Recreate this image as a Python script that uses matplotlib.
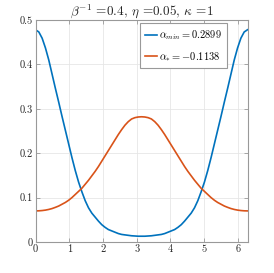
import numpy as np
import matplotlib
matplotlib.use("Agg")
import matplotlib.pyplot as plt

plt.rcParams['font.family'] = 'serif'
plt.rcParams['font.serif'] = ['cmr10', 'DejaVu Serif']
plt.rcParams['mathtext.fontset'] = 'cm'
plt.rcParams['axes.formatter.use_mathtext'] = True
plt.rcParams['axes.unicode_minus'] = False

# x positions (k*pi/32, k = 0..64)
x_vals = [k * np.pi / 32 for k in range(65)]

alpha_min_curve = [
    0.478, 0.473, 0.459, 0.437, 0.410, 0.378, 0.346, 0.315, 0.283, 0.252,
    0.221, 0.190, 0.161, 0.135, 0.113, 0.093, 0.077, 0.065, 0.056, 0.047,
    0.039, 0.033, 0.028, 0.025, 0.022, 0.019, 0.017, 0.016, 0.015, 0.014,
    0.0135, 0.013, 0.013,
    0.013, 0.0135, 0.014, 0.015, 0.016, 0.017, 0.019, 0.022, 0.025, 0.028,
    0.033, 0.039, 0.047, 0.056, 0.065, 0.077, 0.093, 0.113, 0.135, 0.161,
    0.190, 0.221, 0.252, 0.283, 0.315, 0.346, 0.378, 0.410, 0.437, 0.459,
    0.473, 0.478]
alpha_star_curve = [
    0.070, 0.0702, 0.0708, 0.0718, 0.0733, 0.0753, 0.078, 0.081, 0.085, 0.089,
    0.094, 0.100, 0.107, 0.114, 0.121, 0.130, 0.139, 0.149, 0.159, 0.170,
    0.182, 0.194, 0.206, 0.218, 0.230, 0.242, 0.253, 0.263, 0.271, 0.277,
    0.280, 0.2815, 0.282,
    0.2815, 0.280, 0.277, 0.271, 0.263, 0.253, 0.242, 0.230, 0.218, 0.206,
    0.194, 0.182, 0.170, 0.159, 0.149, 0.139, 0.130, 0.121, 0.114, 0.107,
    0.100, 0.094, 0.089, 0.085, 0.081, 0.078, 0.0753, 0.0733, 0.0718, 0.0708,
    0.0702, 0.070]

labels = [r'$\alpha_{min} = 0.2899$', r'$\alpha_{*} = -0.1138$']
title = r'$\beta^{-1}$ =0.4, $\eta$ =0.05, $\kappa$ =1'
xticks = [0, 1, 2, 3, 4, 5, 6]
yticks = [0, 0.1, 0.2, 0.3, 0.4, 0.5]
ytick_labels = ['0', '0.1', '0.2', '0.3', '0.4', '0.5']

fig = plt.figure(figsize=(2.74, 2.73), dpi=100)
ax = fig.add_axes([0.1296, 0.1136, 0.7737, 0.8132])
ax.plot(x_vals, alpha_min_curve, color='#0072BD', lw=1.2, label=labels[0])
ax.plot(x_vals, alpha_star_curve, color='#D95319', lw=1.2, label=labels[1])
ax.set_xlim(0, 2 * np.pi)
ax.set_ylim(0, 0.5)
ax.set_xticks(xticks)
ax.set_xticklabels([str(t) for t in xticks])
ax.set_yticks(yticks)
ax.set_yticklabels(ytick_labels)
ax.grid(True, color='#e6e6e6', lw=0.6)
ax.set_axisbelow(True)
for s in ax.spines.values():
    s.set_color('#999999')
    s.set_linewidth(0.8)
ax.tick_params(direction='in', length=3, width=0.6, color='#999999',
               labelsize=7.5, labelcolor='#262626', top=True, right=True, pad=2)
ax.set_title(title, fontsize=9.5, pad=4, color='#262626')
leg = ax.legend(loc='upper right', bbox_to_anchor=(0.902, 0.986), fontsize=7.5,
                fancybox=False, framealpha=1, edgecolor='#999999',
                handlelength=1.2, handletextpad=0.15, borderpad=0.5,
                labelspacing=0.75, borderaxespad=0)
leg.get_frame().set_linewidth(0.8)
fig.savefig('out.png', dpi=100)
